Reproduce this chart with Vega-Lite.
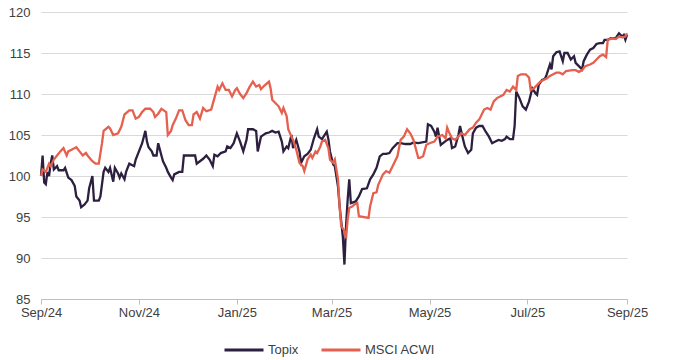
{
  "$schema": "https://vega.github.io/schema/vega-lite/v6.json",
  "autosize": {"type": "none"},
  "width": 586,
  "height": 287,
  "padding": {"left": 41, "top": 12, "right": 53, "bottom": 61},
  "background": "white",
  "config": {
    "view": {"stroke": null},
    "font": "Liberation Sans"
  },
  "data": {
    "values": [
      {"d":"2024-09-01","s":"Topix","v":100.0},
      {"d":"2024-09-02","s":"Topix","v":102.5},
      {"d":"2024-09-03","s":"Topix","v":99.2},
      {"d":"2024-09-04","s":"Topix","v":99.0},
      {"d":"2024-09-05","s":"Topix","v":100.5},
      {"d":"2024-09-06","s":"Topix","v":100.0},
      {"d":"2024-09-07","s":"Topix","v":101.5},
      {"d":"2024-09-08","s":"Topix","v":102.5},
      {"d":"2024-09-09","s":"Topix","v":100.8},
      {"d":"2024-09-11","s":"Topix","v":101.2},
      {"d":"2024-09-12","s":"Topix","v":100.7},
      {"d":"2024-09-15","s":"Topix","v":100.7},
      {"d":"2024-09-16","s":"Topix","v":101.0},
      {"d":"2024-09-18","s":"Topix","v":99.8},
      {"d":"2024-09-20","s":"Topix","v":99.5},
      {"d":"2024-09-22","s":"Topix","v":98.8},
      {"d":"2024-09-23","s":"Topix","v":97.5},
      {"d":"2024-09-25","s":"Topix","v":97.0},
      {"d":"2024-09-26","s":"Topix","v":96.2},
      {"d":"2024-09-28","s":"Topix","v":96.5},
      {"d":"2024-09-30","s":"Topix","v":97.0},
      {"d":"2024-10-01","s":"Topix","v":98.5},
      {"d":"2024-10-03","s":"Topix","v":100.0},
      {"d":"2024-10-04","s":"Topix","v":97.0},
      {"d":"2024-10-07","s":"Topix","v":97.0},
      {"d":"2024-10-08","s":"Topix","v":97.5},
      {"d":"2024-10-10","s":"Topix","v":100.5},
      {"d":"2024-10-11","s":"Topix","v":101.0},
      {"d":"2024-10-13","s":"Topix","v":100.5},
      {"d":"2024-10-14","s":"Topix","v":101.0},
      {"d":"2024-10-16","s":"Topix","v":99.3},
      {"d":"2024-10-17","s":"Topix","v":101.0},
      {"d":"2024-10-19","s":"Topix","v":100.3},
      {"d":"2024-10-20","s":"Topix","v":99.8},
      {"d":"2024-10-21","s":"Topix","v":100.3},
      {"d":"2024-10-23","s":"Topix","v":99.6},
      {"d":"2024-10-24","s":"Topix","v":100.5},
      {"d":"2024-10-26","s":"Topix","v":101.5},
      {"d":"2024-10-29","s":"Topix","v":101.2},
      {"d":"2024-10-30","s":"Topix","v":102.0},
      {"d":"2024-11-01","s":"Topix","v":103.0},
      {"d":"2024-11-03","s":"Topix","v":104.0},
      {"d":"2024-11-05","s":"Topix","v":105.5},
      {"d":"2024-11-06","s":"Topix","v":104.2},
      {"d":"2024-11-07","s":"Topix","v":103.5},
      {"d":"2024-11-09","s":"Topix","v":103.0},
      {"d":"2024-11-10","s":"Topix","v":102.5},
      {"d":"2024-11-12","s":"Topix","v":102.5},
      {"d":"2024-11-13","s":"Topix","v":104.0},
      {"d":"2024-11-15","s":"Topix","v":102.5},
      {"d":"2024-11-16","s":"Topix","v":101.8},
      {"d":"2024-11-18","s":"Topix","v":101.0},
      {"d":"2024-11-19","s":"Topix","v":100.5},
      {"d":"2024-11-21","s":"Topix","v":99.8},
      {"d":"2024-11-22","s":"Topix","v":99.5},
      {"d":"2024-11-23","s":"Topix","v":100.2},
      {"d":"2024-11-26","s":"Topix","v":100.5},
      {"d":"2024-11-28","s":"Topix","v":100.5},
      {"d":"2024-11-29","s":"Topix","v":102.5},
      {"d":"2024-12-01","s":"Topix","v":102.5},
      {"d":"2024-12-05","s":"Topix","v":102.5},
      {"d":"2024-12-06","s":"Topix","v":102.5},
      {"d":"2024-12-07","s":"Topix","v":101.5},
      {"d":"2024-12-09","s":"Topix","v":101.8},
      {"d":"2024-12-11","s":"Topix","v":102.1},
      {"d":"2024-12-13","s":"Topix","v":102.5},
      {"d":"2024-12-15","s":"Topix","v":102.0},
      {"d":"2024-12-17","s":"Topix","v":101.2},
      {"d":"2024-12-18","s":"Topix","v":102.6},
      {"d":"2024-12-20","s":"Topix","v":102.4},
      {"d":"2024-12-22","s":"Topix","v":102.8},
      {"d":"2024-12-25","s":"Topix","v":103.0},
      {"d":"2024-12-26","s":"Topix","v":103.6},
      {"d":"2024-12-28","s":"Topix","v":103.4},
      {"d":"2024-12-30","s":"Topix","v":104.0},
      {"d":"2025-01-01","s":"Topix","v":105.2},
      {"d":"2025-01-03","s":"Topix","v":104.2},
      {"d":"2025-01-05","s":"Topix","v":103.0},
      {"d":"2025-01-07","s":"Topix","v":104.4},
      {"d":"2025-01-08","s":"Topix","v":105.7},
      {"d":"2025-01-11","s":"Topix","v":105.7},
      {"d":"2025-01-13","s":"Topix","v":105.5},
      {"d":"2025-01-14","s":"Topix","v":103.0},
      {"d":"2025-01-16","s":"Topix","v":104.8},
      {"d":"2025-01-19","s":"Topix","v":105.2},
      {"d":"2025-01-21","s":"Topix","v":105.3},
      {"d":"2025-01-23","s":"Topix","v":105.5},
      {"d":"2025-01-25","s":"Topix","v":105.3},
      {"d":"2025-01-27","s":"Topix","v":105.4},
      {"d":"2025-01-29","s":"Topix","v":104.2},
      {"d":"2025-01-30","s":"Topix","v":103.0},
      {"d":"2025-02-01","s":"Topix","v":103.6},
      {"d":"2025-02-02","s":"Topix","v":103.4},
      {"d":"2025-02-04","s":"Topix","v":105.0},
      {"d":"2025-02-05","s":"Topix","v":103.4},
      {"d":"2025-02-07","s":"Topix","v":104.4},
      {"d":"2025-02-09","s":"Topix","v":103.0},
      {"d":"2025-02-10","s":"Topix","v":101.6},
      {"d":"2025-02-12","s":"Topix","v":102.4},
      {"d":"2025-02-14","s":"Topix","v":102.7},
      {"d":"2025-02-16","s":"Topix","v":103.2},
      {"d":"2025-02-18","s":"Topix","v":104.6},
      {"d":"2025-02-20","s":"Topix","v":105.7},
      {"d":"2025-02-21","s":"Topix","v":104.8},
      {"d":"2025-02-23","s":"Topix","v":104.5},
      {"d":"2025-02-24","s":"Topix","v":104.8},
      {"d":"2025-02-26","s":"Topix","v":105.4},
      {"d":"2025-02-27","s":"Topix","v":104.5},
      {"d":"2025-02-28","s":"Topix","v":103.0},
      {"d":"2025-03-02","s":"Topix","v":101.4},
      {"d":"2025-03-03","s":"Topix","v":101.2},
      {"d":"2025-03-05","s":"Topix","v":98.7},
      {"d":"2025-03-06","s":"Topix","v":96.3},
      {"d":"2025-03-08","s":"Topix","v":92.6},
      {"d":"2025-03-09","s":"Topix","v":89.2},
      {"d":"2025-03-10","s":"Topix","v":93.9},
      {"d":"2025-03-11","s":"Topix","v":97.1},
      {"d":"2025-03-12","s":"Topix","v":99.6},
      {"d":"2025-03-13","s":"Topix","v":96.7},
      {"d":"2025-03-16","s":"Topix","v":96.9},
      {"d":"2025-03-18","s":"Topix","v":97.5},
      {"d":"2025-03-20","s":"Topix","v":98.4},
      {"d":"2025-03-23","s":"Topix","v":98.5},
      {"d":"2025-03-25","s":"Topix","v":99.6},
      {"d":"2025-03-27","s":"Topix","v":100.2},
      {"d":"2025-03-29","s":"Topix","v":101.0},
      {"d":"2025-03-31","s":"Topix","v":102.4},
      {"d":"2025-04-02","s":"Topix","v":102.7},
      {"d":"2025-04-04","s":"Topix","v":102.7},
      {"d":"2025-04-06","s":"Topix","v":102.8},
      {"d":"2025-04-08","s":"Topix","v":103.4},
      {"d":"2025-04-11","s":"Topix","v":104.0},
      {"d":"2025-04-13","s":"Topix","v":104.0},
      {"d":"2025-04-16","s":"Topix","v":103.9},
      {"d":"2025-04-19","s":"Topix","v":103.9},
      {"d":"2025-04-21","s":"Topix","v":104.1},
      {"d":"2025-04-24","s":"Topix","v":104.0},
      {"d":"2025-04-29","s":"Topix","v":104.2},
      {"d":"2025-04-30","s":"Topix","v":106.3},
      {"d":"2025-05-02","s":"Topix","v":106.1},
      {"d":"2025-05-04","s":"Topix","v":105.4},
      {"d":"2025-05-05","s":"Topix","v":104.8},
      {"d":"2025-05-06","s":"Topix","v":105.9},
      {"d":"2025-05-08","s":"Topix","v":103.8},
      {"d":"2025-05-10","s":"Topix","v":104.1},
      {"d":"2025-05-12","s":"Topix","v":104.4},
      {"d":"2025-05-14","s":"Topix","v":104.6},
      {"d":"2025-05-15","s":"Topix","v":103.4},
      {"d":"2025-05-17","s":"Topix","v":103.6},
      {"d":"2025-05-19","s":"Topix","v":105.0},
      {"d":"2025-05-20","s":"Topix","v":106.1},
      {"d":"2025-05-22","s":"Topix","v":104.4},
      {"d":"2025-05-23","s":"Topix","v":103.6},
      {"d":"2025-05-25","s":"Topix","v":102.8},
      {"d":"2025-05-27","s":"Topix","v":103.2},
      {"d":"2025-05-28","s":"Topix","v":105.2},
      {"d":"2025-05-30","s":"Topix","v":105.9},
      {"d":"2025-06-01","s":"Topix","v":106.1},
      {"d":"2025-06-03","s":"Topix","v":106.1},
      {"d":"2025-06-05","s":"Topix","v":105.4},
      {"d":"2025-06-07","s":"Topix","v":104.8},
      {"d":"2025-06-09","s":"Topix","v":104.0},
      {"d":"2025-06-11","s":"Topix","v":104.2},
      {"d":"2025-06-13","s":"Topix","v":104.4},
      {"d":"2025-06-15","s":"Topix","v":104.3},
      {"d":"2025-06-17","s":"Topix","v":104.5},
      {"d":"2025-06-18","s":"Topix","v":104.8},
      {"d":"2025-06-20","s":"Topix","v":104.5},
      {"d":"2025-06-22","s":"Topix","v":104.5},
      {"d":"2025-06-23","s":"Topix","v":106.1},
      {"d":"2025-06-24","s":"Topix","v":110.3},
      {"d":"2025-06-26","s":"Topix","v":109.5},
      {"d":"2025-06-28","s":"Topix","v":108.5},
      {"d":"2025-06-30","s":"Topix","v":108.1},
      {"d":"2025-07-02","s":"Topix","v":109.1},
      {"d":"2025-07-04","s":"Topix","v":110.7},
      {"d":"2025-07-06","s":"Topix","v":110.1},
      {"d":"2025-07-07","s":"Topix","v":109.9},
      {"d":"2025-07-08","s":"Topix","v":111.1},
      {"d":"2025-07-10","s":"Topix","v":111.7},
      {"d":"2025-07-12","s":"Topix","v":111.9},
      {"d":"2025-07-13","s":"Topix","v":112.4},
      {"d":"2025-07-15","s":"Topix","v":113.6},
      {"d":"2025-07-16","s":"Topix","v":113.0},
      {"d":"2025-07-17","s":"Topix","v":114.6},
      {"d":"2025-07-19","s":"Topix","v":115.1},
      {"d":"2025-07-21","s":"Topix","v":115.2},
      {"d":"2025-07-23","s":"Topix","v":114.0},
      {"d":"2025-07-24","s":"Topix","v":115.0},
      {"d":"2025-07-26","s":"Topix","v":115.0},
      {"d":"2025-07-28","s":"Topix","v":114.2},
      {"d":"2025-07-30","s":"Topix","v":114.6},
      {"d":"2025-07-31","s":"Topix","v":113.8},
      {"d":"2025-08-02","s":"Topix","v":113.4},
      {"d":"2025-08-04","s":"Topix","v":113.0},
      {"d":"2025-08-05","s":"Topix","v":114.0},
      {"d":"2025-08-07","s":"Topix","v":114.8},
      {"d":"2025-08-09","s":"Topix","v":115.4},
      {"d":"2025-08-11","s":"Topix","v":115.6},
      {"d":"2025-08-13","s":"Topix","v":116.1},
      {"d":"2025-08-15","s":"Topix","v":116.2},
      {"d":"2025-08-17","s":"Topix","v":116.2},
      {"d":"2025-08-18","s":"Topix","v":116.6},
      {"d":"2025-08-20","s":"Topix","v":116.6},
      {"d":"2025-08-22","s":"Topix","v":116.8},
      {"d":"2025-08-25","s":"Topix","v":116.8},
      {"d":"2025-08-27","s":"Topix","v":117.4},
      {"d":"2025-08-29","s":"Topix","v":117.0},
      {"d":"2025-08-30","s":"Topix","v":117.2},
      {"d":"2025-08-31","s":"Topix","v":116.6},
      {"d":"2025-09-01","s":"Topix","v":117.2},
      {"d":"2024-09-01","s":"MSCI ACWI","v":100.0},
      {"d":"2024-09-02","s":"MSCI ACWI","v":100.8},
      {"d":"2024-09-04","s":"MSCI ACWI","v":100.5},
      {"d":"2024-09-06","s":"MSCI ACWI","v":101.5},
      {"d":"2024-09-07","s":"MSCI ACWI","v":101.2},
      {"d":"2024-09-09","s":"MSCI ACWI","v":102.0},
      {"d":"2024-09-11","s":"MSCI ACWI","v":102.5},
      {"d":"2024-09-13","s":"MSCI ACWI","v":103.0},
      {"d":"2024-09-15","s":"MSCI ACWI","v":103.4},
      {"d":"2024-09-17","s":"MSCI ACWI","v":102.5},
      {"d":"2024-09-18","s":"MSCI ACWI","v":103.0},
      {"d":"2024-09-20","s":"MSCI ACWI","v":103.2},
      {"d":"2024-09-23","s":"MSCI ACWI","v":103.5},
      {"d":"2024-09-25","s":"MSCI ACWI","v":103.0},
      {"d":"2024-09-27","s":"MSCI ACWI","v":102.5},
      {"d":"2024-09-29","s":"MSCI ACWI","v":102.8},
      {"d":"2024-09-30","s":"MSCI ACWI","v":102.5},
      {"d":"2024-10-03","s":"MSCI ACWI","v":101.8},
      {"d":"2024-10-05","s":"MSCI ACWI","v":101.5},
      {"d":"2024-10-07","s":"MSCI ACWI","v":101.5},
      {"d":"2024-10-09","s":"MSCI ACWI","v":104.0},
      {"d":"2024-10-10","s":"MSCI ACWI","v":105.5},
      {"d":"2024-10-13","s":"MSCI ACWI","v":106.0},
      {"d":"2024-10-14","s":"MSCI ACWI","v":105.8},
      {"d":"2024-10-16","s":"MSCI ACWI","v":105.0},
      {"d":"2024-10-19","s":"MSCI ACWI","v":105.2},
      {"d":"2024-10-21","s":"MSCI ACWI","v":106.0},
      {"d":"2024-10-23","s":"MSCI ACWI","v":107.5},
      {"d":"2024-10-26","s":"MSCI ACWI","v":108.0},
      {"d":"2024-10-28","s":"MSCI ACWI","v":108.0},
      {"d":"2024-10-30","s":"MSCI ACWI","v":107.0},
      {"d":"2024-11-01","s":"MSCI ACWI","v":107.2},
      {"d":"2024-11-03","s":"MSCI ACWI","v":107.8},
      {"d":"2024-11-05","s":"MSCI ACWI","v":108.2},
      {"d":"2024-11-08","s":"MSCI ACWI","v":108.2},
      {"d":"2024-11-10","s":"MSCI ACWI","v":107.8},
      {"d":"2024-11-11","s":"MSCI ACWI","v":107.2},
      {"d":"2024-11-13","s":"MSCI ACWI","v":107.6},
      {"d":"2024-11-15","s":"MSCI ACWI","v":108.2},
      {"d":"2024-11-18","s":"MSCI ACWI","v":107.8},
      {"d":"2024-11-19","s":"MSCI ACWI","v":105.0},
      {"d":"2024-11-21","s":"MSCI ACWI","v":105.5},
      {"d":"2024-11-22","s":"MSCI ACWI","v":106.2},
      {"d":"2024-11-24","s":"MSCI ACWI","v":107.0},
      {"d":"2024-11-26","s":"MSCI ACWI","v":108.0},
      {"d":"2024-11-28","s":"MSCI ACWI","v":108.0},
      {"d":"2024-11-30","s":"MSCI ACWI","v":106.8},
      {"d":"2024-12-02","s":"MSCI ACWI","v":106.2},
      {"d":"2024-12-04","s":"MSCI ACWI","v":106.2},
      {"d":"2024-12-05","s":"MSCI ACWI","v":107.5},
      {"d":"2024-12-07","s":"MSCI ACWI","v":107.8},
      {"d":"2024-12-09","s":"MSCI ACWI","v":107.0},
      {"d":"2024-12-11","s":"MSCI ACWI","v":108.3},
      {"d":"2024-12-13","s":"MSCI ACWI","v":107.9},
      {"d":"2024-12-16","s":"MSCI ACWI","v":108.1},
      {"d":"2024-12-18","s":"MSCI ACWI","v":109.5},
      {"d":"2024-12-20","s":"MSCI ACWI","v":110.9},
      {"d":"2024-12-21","s":"MSCI ACWI","v":110.5},
      {"d":"2024-12-23","s":"MSCI ACWI","v":111.3},
      {"d":"2024-12-25","s":"MSCI ACWI","v":110.5},
      {"d":"2024-12-27","s":"MSCI ACWI","v":110.5},
      {"d":"2024-12-29","s":"MSCI ACWI","v":109.7},
      {"d":"2024-12-31","s":"MSCI ACWI","v":110.5},
      {"d":"2025-01-01","s":"MSCI ACWI","v":110.7},
      {"d":"2025-01-03","s":"MSCI ACWI","v":110.0},
      {"d":"2025-01-05","s":"MSCI ACWI","v":109.5},
      {"d":"2025-01-07","s":"MSCI ACWI","v":110.1},
      {"d":"2025-01-09","s":"MSCI ACWI","v":110.9},
      {"d":"2025-01-11","s":"MSCI ACWI","v":111.5},
      {"d":"2025-01-13","s":"MSCI ACWI","v":110.9},
      {"d":"2025-01-15","s":"MSCI ACWI","v":111.1},
      {"d":"2025-01-16","s":"MSCI ACWI","v":110.6},
      {"d":"2025-01-18","s":"MSCI ACWI","v":111.0},
      {"d":"2025-01-21","s":"MSCI ACWI","v":111.5},
      {"d":"2025-01-22","s":"MSCI ACWI","v":110.7},
      {"d":"2025-01-23","s":"MSCI ACWI","v":109.3},
      {"d":"2025-01-25","s":"MSCI ACWI","v":108.9},
      {"d":"2025-01-27","s":"MSCI ACWI","v":108.5},
      {"d":"2025-01-29","s":"MSCI ACWI","v":107.7},
      {"d":"2025-01-30","s":"MSCI ACWI","v":108.3},
      {"d":"2025-02-01","s":"MSCI ACWI","v":107.3},
      {"d":"2025-02-02","s":"MSCI ACWI","v":105.7},
      {"d":"2025-02-04","s":"MSCI ACWI","v":104.8},
      {"d":"2025-02-05","s":"MSCI ACWI","v":104.4},
      {"d":"2025-02-07","s":"MSCI ACWI","v":103.2},
      {"d":"2025-02-09","s":"MSCI ACWI","v":101.6},
      {"d":"2025-02-11","s":"MSCI ACWI","v":101.2},
      {"d":"2025-02-12","s":"MSCI ACWI","v":100.6},
      {"d":"2025-02-14","s":"MSCI ACWI","v":102.0},
      {"d":"2025-02-16","s":"MSCI ACWI","v":102.6},
      {"d":"2025-02-17","s":"MSCI ACWI","v":102.2},
      {"d":"2025-02-19","s":"MSCI ACWI","v":103.0},
      {"d":"2025-02-20","s":"MSCI ACWI","v":102.8},
      {"d":"2025-02-22","s":"MSCI ACWI","v":103.6},
      {"d":"2025-02-23","s":"MSCI ACWI","v":104.2},
      {"d":"2025-02-25","s":"MSCI ACWI","v":104.4},
      {"d":"2025-02-27","s":"MSCI ACWI","v":103.4},
      {"d":"2025-02-28","s":"MSCI ACWI","v":102.0},
      {"d":"2025-03-02","s":"MSCI ACWI","v":101.6},
      {"d":"2025-03-03","s":"MSCI ACWI","v":102.0},
      {"d":"2025-03-05","s":"MSCI ACWI","v":99.6},
      {"d":"2025-03-06","s":"MSCI ACWI","v":96.3},
      {"d":"2025-03-07","s":"MSCI ACWI","v":93.9},
      {"d":"2025-03-09","s":"MSCI ACWI","v":93.3},
      {"d":"2025-03-10","s":"MSCI ACWI","v":92.4},
      {"d":"2025-03-11","s":"MSCI ACWI","v":94.7},
      {"d":"2025-03-12","s":"MSCI ACWI","v":96.1},
      {"d":"2025-03-14","s":"MSCI ACWI","v":96.3},
      {"d":"2025-03-15","s":"MSCI ACWI","v":96.5},
      {"d":"2025-03-17","s":"MSCI ACWI","v":96.7},
      {"d":"2025-03-18","s":"MSCI ACWI","v":95.1},
      {"d":"2025-03-24","s":"MSCI ACWI","v":94.9},
      {"d":"2025-03-25","s":"MSCI ACWI","v":96.3},
      {"d":"2025-03-27","s":"MSCI ACWI","v":97.9},
      {"d":"2025-03-29","s":"MSCI ACWI","v":98.0},
      {"d":"2025-03-30","s":"MSCI ACWI","v":98.9},
      {"d":"2025-04-02","s":"MSCI ACWI","v":100.2},
      {"d":"2025-04-04","s":"MSCI ACWI","v":100.6},
      {"d":"2025-04-06","s":"MSCI ACWI","v":100.4},
      {"d":"2025-04-08","s":"MSCI ACWI","v":101.2},
      {"d":"2025-04-11","s":"MSCI ACWI","v":102.4},
      {"d":"2025-04-13","s":"MSCI ACWI","v":104.4},
      {"d":"2025-04-15","s":"MSCI ACWI","v":104.8},
      {"d":"2025-04-17","s":"MSCI ACWI","v":105.7},
      {"d":"2025-04-19","s":"MSCI ACWI","v":105.2},
      {"d":"2025-04-21","s":"MSCI ACWI","v":104.4},
      {"d":"2025-04-24","s":"MSCI ACWI","v":102.2},
      {"d":"2025-04-25","s":"MSCI ACWI","v":102.2},
      {"d":"2025-04-27","s":"MSCI ACWI","v":102.4},
      {"d":"2025-04-29","s":"MSCI ACWI","v":103.8},
      {"d":"2025-05-01","s":"MSCI ACWI","v":104.0},
      {"d":"2025-05-04","s":"MSCI ACWI","v":104.2},
      {"d":"2025-05-06","s":"MSCI ACWI","v":104.8},
      {"d":"2025-05-09","s":"MSCI ACWI","v":105.0},
      {"d":"2025-05-11","s":"MSCI ACWI","v":104.6},
      {"d":"2025-05-12","s":"MSCI ACWI","v":105.9},
      {"d":"2025-05-13","s":"MSCI ACWI","v":105.4},
      {"d":"2025-05-15","s":"MSCI ACWI","v":104.6},
      {"d":"2025-05-17","s":"MSCI ACWI","v":104.4},
      {"d":"2025-05-19","s":"MSCI ACWI","v":104.8},
      {"d":"2025-05-21","s":"MSCI ACWI","v":105.2},
      {"d":"2025-05-23","s":"MSCI ACWI","v":105.0},
      {"d":"2025-05-26","s":"MSCI ACWI","v":105.7},
      {"d":"2025-05-28","s":"MSCI ACWI","v":105.9},
      {"d":"2025-05-30","s":"MSCI ACWI","v":106.5},
      {"d":"2025-06-01","s":"MSCI ACWI","v":106.9},
      {"d":"2025-06-04","s":"MSCI ACWI","v":108.1},
      {"d":"2025-06-06","s":"MSCI ACWI","v":108.3},
      {"d":"2025-06-08","s":"MSCI ACWI","v":108.1},
      {"d":"2025-06-10","s":"MSCI ACWI","v":109.1},
      {"d":"2025-06-12","s":"MSCI ACWI","v":109.5},
      {"d":"2025-06-14","s":"MSCI ACWI","v":109.7},
      {"d":"2025-06-16","s":"MSCI ACWI","v":109.9},
      {"d":"2025-06-18","s":"MSCI ACWI","v":110.5},
      {"d":"2025-06-20","s":"MSCI ACWI","v":110.3},
      {"d":"2025-06-22","s":"MSCI ACWI","v":110.9},
      {"d":"2025-06-24","s":"MSCI ACWI","v":110.5},
      {"d":"2025-06-25","s":"MSCI ACWI","v":112.2},
      {"d":"2025-06-27","s":"MSCI ACWI","v":112.4},
      {"d":"2025-06-30","s":"MSCI ACWI","v":112.4},
      {"d":"2025-07-02","s":"MSCI ACWI","v":112.0},
      {"d":"2025-07-03","s":"MSCI ACWI","v":110.5},
      {"d":"2025-07-05","s":"MSCI ACWI","v":110.7},
      {"d":"2025-07-06","s":"MSCI ACWI","v":110.9},
      {"d":"2025-07-08","s":"MSCI ACWI","v":111.3},
      {"d":"2025-07-09","s":"MSCI ACWI","v":111.5},
      {"d":"2025-07-11","s":"MSCI ACWI","v":111.7},
      {"d":"2025-07-13","s":"MSCI ACWI","v":111.9},
      {"d":"2025-07-15","s":"MSCI ACWI","v":112.2},
      {"d":"2025-07-17","s":"MSCI ACWI","v":112.4},
      {"d":"2025-07-19","s":"MSCI ACWI","v":112.6},
      {"d":"2025-07-21","s":"MSCI ACWI","v":112.6},
      {"d":"2025-07-23","s":"MSCI ACWI","v":112.4},
      {"d":"2025-07-25","s":"MSCI ACWI","v":112.8},
      {"d":"2025-07-29","s":"MSCI ACWI","v":112.9},
      {"d":"2025-07-31","s":"MSCI ACWI","v":112.9},
      {"d":"2025-08-02","s":"MSCI ACWI","v":112.7},
      {"d":"2025-08-04","s":"MSCI ACWI","v":112.9},
      {"d":"2025-08-06","s":"MSCI ACWI","v":113.4},
      {"d":"2025-08-09","s":"MSCI ACWI","v":113.6},
      {"d":"2025-08-11","s":"MSCI ACWI","v":113.8},
      {"d":"2025-08-13","s":"MSCI ACWI","v":114.2},
      {"d":"2025-08-15","s":"MSCI ACWI","v":114.6},
      {"d":"2025-08-17","s":"MSCI ACWI","v":114.8},
      {"d":"2025-08-19","s":"MSCI ACWI","v":114.5},
      {"d":"2025-08-20","s":"MSCI ACWI","v":116.6},
      {"d":"2025-08-23","s":"MSCI ACWI","v":116.8},
      {"d":"2025-08-25","s":"MSCI ACWI","v":116.7},
      {"d":"2025-08-27","s":"MSCI ACWI","v":117.0},
      {"d":"2025-08-29","s":"MSCI ACWI","v":116.9},
      {"d":"2025-08-31","s":"MSCI ACWI","v":117.0},
      {"d":"2025-09-01","s":"MSCI ACWI","v":117.4}
    ]
  },
  "mark": {"type": "line", "strokeWidth": 2.3, "interpolate": "linear"},
  "encoding": {
    "x": {
      "field": "d",
      "type": "temporal",
      "scale": {
        "type": "utc",
        "domain": [
          {"year": 2024, "month": 9, "date": 1, "utc": true},
          {"year": 2025, "month": 9, "date": 1, "utc": true}
        ],
        "nice": false
      },
      "axis": {
        "title": null,
        "format": "%b/%y",
        "tickCount": {"interval": "month", "step": 2},
        "grid": false,
        "domainColor": "#bfbfbf",
        "tickColor": "#bfbfbf",
        "tickSize": 5,
        "labelPadding": 2,
        "labelFont": "Liberation Sans",
        "labelFontSize": 13,
        "labelColor": "#404040",
        "labelOverlap": false,
        "labelFlush": false
      }
    },
    "y": {
      "field": "v",
      "type": "quantitative",
      "scale": {"domain": [85, 120], "nice": false, "zero": false},
      "axis": {
        "title": null,
        "values": [85, 90, 95, 100, 105, 110, 115, 120],
        "domain": false,
        "ticks": false,
        "labelPadding": 11,
        "labelFont": "Liberation Sans",
        "labelFontSize": 13,
        "labelColor": "#404040",
        "gridColor": "#d9d9d9",
        "gridWidth": 1
      }
    },
    "color": {
      "field": "s",
      "type": "nominal",
      "scale": {"domain": ["Topix", "MSCI ACWI"], "range": ["#2c1f3f", "#e5604e"]},
      "legend": {
        "title": null,
        "orient": "none",
        "legendX": 182,
        "legendY": 317,
        "direction": "horizontal",
        "symbolType": "stroke",
        "symbolSize": 1521,
        "symbolStrokeWidth": 3,
        "labelFont": "Liberation Sans",
        "labelFontSize": 13,
        "labelColor": "#404040",
        "labelOffset": 3,
        "columnPadding": 16,
        "padding": 0
      }
    }
  }
}
